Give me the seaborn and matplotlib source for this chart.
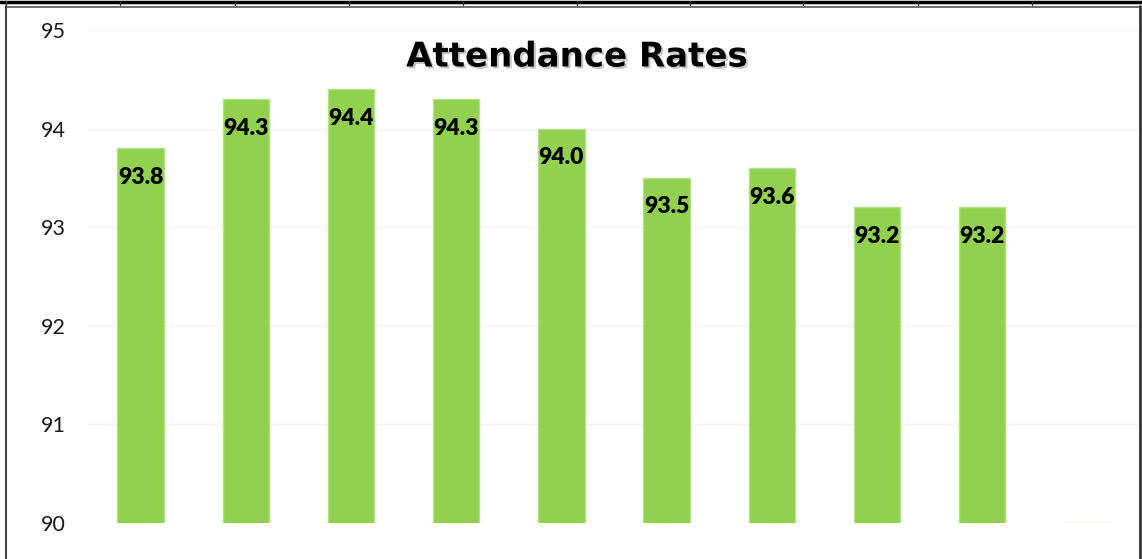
import matplotlib
matplotlib.use("Agg")
import matplotlib.pyplot as plt
import matplotlib.patheffects as pe
from matplotlib.lines import Line2D
import pandas as pd
import seaborn as sns

# Chart data
periods = ["P1", "P2", "P3", "P4", "P5", "P6", "P7", "P8", "P9", "P10"]
attendance = [93.8, 94.3, 94.4, 94.3, 94.0, 93.5, 93.6, 93.2, 93.2, 90.0]
y_ticks = [90, 91, 92, 93, 94, 95]

BAR_GREEN = "#92D050"

sns.set_theme(style="white")
plt.rcParams["font.family"] = ["Lato", "DejaVu Sans"]

df = pd.DataFrame({"period": periods, "rate": attendance})

fig = plt.figure(figsize=(11.42, 5.59), dpi=100)
ax = fig.add_axes([88 / 1142, 36 / 559, (1140 - 88) / 1142, 493 / 559])

sns.barplot(data=df, x="period", y="rate", color=BAR_GREEN, width=0.44,
            edgecolor="#b5e08a", linewidth=1, saturation=1, ax=ax)

ax.set_ylim(90, 95)
ax.set_xlim(-0.5, len(periods) - 0.5)
ax.set_yticks(y_ticks)
ax.set_yticklabels([str(t) for t in y_ticks], fontsize=15.5, color="#1a1a1a")
ax.tick_params(axis="y", length=0, pad=16)
ax.set_xticks([])
ax.set_xlabel("")
ax.set_ylabel("")
ax.yaxis.grid(True, color="#f3f3f3", linewidth=1)
ax.set_axisbelow(True)
sns.despine(ax=ax, left=True, bottom=True)

# value labels inside the top of each bar
for i, v in enumerate(attendance):
    if v <= 90:
        continue
    ax.annotate(f"{v:.1f}", xy=(i, v), xytext=(0, -29), textcoords="offset pixels",
                ha="center", va="center", fontsize=16.5, fontweight="heavy", color="black")

# title with a soft shadow
fig.text(577 / 1142, 1 - 57 / 559, "Attendance Rates", ha="center", va="center",
         fontsize=24.5, fontweight="bold", color="black", family="DejaVu Sans",
         path_effects=[pe.SimplePatchShadow(offset=(1.5, -1.5), alpha=0.22), pe.Normal()])

# surrounding frame (table border + chart border)
W, H = 1142, 559
def fx(px):
    return px / W
def fy(py):
    return 1 - py / H

fig.add_artist(Line2D([0, 1], [fy(1.5), fy(1.5)], color="black", linewidth=2.5))
for tx in [6, 120, 235, 349, 463, 577, 690, 803, 918, 1032]:
    fig.add_artist(Line2D([fx(tx), fx(tx)], [fy(1), fy(5)], color="#333333", linewidth=1))
fig.add_artist(Line2D([fx(6), fx(1140)], [fy(6.5), fy(6.5)], color="#555555", linewidth=1.2))
fig.add_artist(Line2D([fx(6), fx(6)], [fy(6), 0], color="#444444", linewidth=1.5))
fig.add_artist(Line2D([fx(1140), fx(1140)], [fy(6), 0], color="#333333", linewidth=2))

fig.savefig("out.png", dpi=100)
